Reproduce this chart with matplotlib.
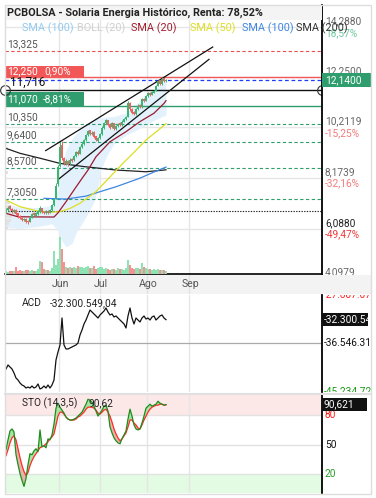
import matplotlib
matplotlib.use("Agg")
import matplotlib.pyplot as plt
from matplotlib.patches import Rectangle
from matplotlib.lines import Line2D
from matplotlib.transforms import blended_transform_factory as blend

plt.rcParams['font.family'] = ['Roboto', 'DejaVu Sans']

# ==========================================================
#  Datos (sesiones diarias, indice 0..80)
# ==========================================================
title = "PCBOLSA - Solaria Energia Histórico, Renta: 78,52%"

opens = [6.80, 6.85, 7.00, 6.90, 6.78, 6.85, 6.72, 6.60, 6.55, 6.45,
         6.50, 6.42, 6.38, 6.55, 6.72, 6.63, 6.70, 6.78, 6.92, 6.78,
         6.72, 6.82, 6.75, 6.85, 7.05, 7.35, 7.90, 8.65, 9.50, 8.95,
         8.72, 8.85, 8.72, 8.92, 8.88, 9.05, 9.22, 9.15, 9.40, 9.55,
         9.72, 9.90, 10.10, 9.95, 10.02, 9.85, 9.68, 9.78, 9.95, 10.20,
         10.38, 10.50, 10.35, 10.22, 10.38, 10.15, 10.25, 10.38, 10.30, 10.45,
         10.55, 10.65, 11.20, 10.98, 10.85, 10.75, 10.95, 11.12, 11.05, 11.38,
         11.30, 11.48, 11.62, 11.55, 11.62, 11.70, 11.90, 12.12, 11.98, 12.22,
         12.08]
closes = [6.85, 6.95, 6.90, 6.80, 6.85, 6.70, 6.60, 6.55, 6.45, 6.50,
          6.38, 6.35, 6.55, 6.70, 6.65, 6.72, 6.80, 6.95, 6.78, 6.72,
          6.80, 6.75, 6.85, 7.05, 7.30, 7.85, 8.60, 9.40, 8.95, 8.75,
          8.85, 8.70, 8.90, 8.85, 9.05, 9.20, 9.15, 9.40, 9.55, 9.70,
          9.90, 10.05, 9.95, 10.00, 9.82, 9.70, 9.78, 9.95, 10.20, 10.40,
          10.50, 10.32, 10.20, 10.38, 10.15, 10.25, 10.35, 10.30, 10.45, 10.55,
          10.62, 11.20, 10.95, 10.80, 10.75, 10.95, 11.10, 11.05, 11.35, 11.30,
          11.50, 11.60, 11.55, 11.65, 11.70, 11.90, 12.10, 11.98, 12.20, 12.10,
          12.14]
highs = [6.92, 7.00, 7.05, 6.95, 6.90, 6.88, 6.75, 6.65, 6.58, 6.55,
         6.55, 6.45, 6.60, 6.75, 6.78, 6.78, 6.85, 7.02, 6.95, 6.82,
         6.85, 6.85, 6.90, 7.10, 7.35, 7.95, 8.70, 9.60, 9.66, 9.00,
         8.92, 8.90, 8.95, 8.98, 9.10, 9.25, 9.28, 9.45, 9.60, 9.75,
         9.95, 10.10, 10.12, 10.05, 10.05, 9.88, 9.82, 10.00, 10.25, 10.45,
         10.55, 10.52, 10.38, 10.42, 10.40, 10.30, 10.40, 10.42, 10.50, 10.60,
         10.68, 11.30, 11.25, 11.00, 10.88, 11.00, 11.15, 11.15, 11.40, 11.42,
         11.55, 11.65, 11.66, 11.70, 11.75, 11.95, 12.15, 12.15, 12.25, 12.24,
         12.20]
lows = [6.75, 6.82, 6.85, 6.75, 6.74, 6.65, 6.55, 6.50, 6.40, 6.40,
        6.33, 6.28, 6.35, 6.52, 6.60, 6.60, 6.66, 6.75, 6.74, 6.68,
        6.68, 6.70, 6.72, 6.82, 7.02, 7.30, 7.85, 8.60, 8.90, 8.68,
        8.68, 8.65, 8.68, 8.80, 8.85, 9.00, 9.10, 9.12, 9.36, 9.50,
        9.68, 9.86, 9.90, 9.90, 9.78, 9.65, 9.64, 9.75, 9.92, 10.15,
        10.35, 10.28, 10.15, 10.18, 10.10, 10.12, 10.22, 10.26, 10.28, 10.42,
        10.50, 10.62, 10.90, 10.75, 10.70, 10.72, 10.92, 11.00, 11.02, 11.25,
        11.28, 11.45, 11.50, 11.52, 11.60, 11.68, 11.88, 11.95, 11.95, 12.05,
        12.05]
volumes = [300, 200, 300, 250, 300, 700, 300, 400, 250, 300,
           400, 350, 250, 400, 300, 250, 500, 1250, 1200, 500,
           350, 400, 300, 600, 2250, 900, 1500, 3700, 2500, 1200,
           700, 600, 650, 550, 700, 600, 800, 700, 650, 550,
           700, 750, 550, 600, 800, 500, 550, 700, 650, 500,
           550, 450, 400, 500, 450, 400, 550, 450, 500, 400,
           550, 1370, 900, 600, 500, 550, 600, 450, 1100, 700,
           550, 500, 450, 400, 450, 400, 450, 400, 350, 400,
           300]

sma20_x = [0, 6, 24, 26, 30, 34, 38, 41, 45, 52, 60, 67, 74, 79, 80]
sma20_y = [6.72, 6.58, 6.57, 6.74, 7.19, 7.67, 8.14, 8.48, 9.02, 9.63, 10.04, 10.45, 10.79, 11.19, 11.30]
sma50_x = [0, 7, 17, 22, 27, 32, 37, 45, 52, 59, 64, 70, 80]
sma50_y = [7.26, 6.99, 6.79, 6.76, 6.79, 6.92, 7.13, 7.60, 8.20, 8.80, 9.20, 9.70, 10.36]
sma100_x = [19, 30, 40, 47, 55, 67, 74, 80]
sma100_y = [7.33, 7.30, 7.42, 7.60, 7.80, 8.15, 8.40, 8.60]
sma200_x = [0, 7, 17, 27, 39, 55, 70, 79, 80]
sma200_y = [9.36, 9.16, 8.96, 8.75, 8.62, 8.48, 8.41, 8.48, 8.49]
boll_x = [0, 7, 17, 23, 26, 28, 30, 33, 35, 40, 44, 46, 47, 50, 54, 60, 67, 74, 80]
boll_up = [7.10, 6.98, 6.95, 7.05, 7.70, 8.70, 9.30, 9.75, 9.95, 10.35, 10.55, 10.60, 10.60, 10.63, 10.66, 10.80, 11.30, 11.70, 12.15]
boll_lo = [6.15, 6.10, 6.20, 6.30, 6.00, 5.60, 5.36, 5.50, 5.92, 6.58, 7.20, 7.80, 8.40, 9.00, 9.55, 9.90, 10.18, 10.50, 10.72]

# perfil de volumen (izquierda)
vp_price = [9.36, 8.38, 7.15, 7.00, 6.86, 6.72, 6.58, 6.44, 6.30, 6.16]
vp_len = [1.5, 1.5, 2.5, 3.0, 4.0, 4.5, 3.5, 3.0, 2.0, 1.5]

# lineas de tendencia (canal)
chan_a_x = [19.85, 103.35]
chan_a_y = [9.27, 13.48]
chan_b_x = [26.15, 101.5]
chan_b_y = [8.10, 12.98]

# niveles
lvl_red_dash = 13.325
lvl_red = 12.25
lvl_last = 12.14
lvl_black = 11.716
lvl_green = 11.07
lvl_green_dash = [10.35, 9.64, 8.57, 7.305]
lvl_green_dash_txt = ["10,350", "9,6400", "8,5700", "7,3050"]
lvl_dotted = 6.815

# eje de precios derecho
r_prices = [14.288, 12.25, 10.2119, 8.1739, 6.088, 4.0979]
r_texts = ["14,2880", "12,2500", "10,2119", "8,1739", "6,0880", "4,0979"]
r_pcts = ["18,57%", "", "-15,25%", "-32,16%", "-49,47%", ""]
r_pct_colors = ["#6cc79d", "#f37b7b", "#f37b7b", "#f37b7b", "#f03a3a", "#f37b7b"]

month_labels = ["Jun", "Jul", "Ago", "Sep"]
month_pos = [26.5, 47, 70.5, 91.5]

legend_texts = ["SMA (100)", "BOLL (20)", "SMA (20)", "SMA (50)", "SMA (100)", "SMA (200)"]
legend_colors = ["#92caf0", "#cfcfcf", "#a01c2c", "#dede22", "#3d86e3", "#333333"]
legend_px = [21.7, 77, 131, 190, 242, 296]

# ACD (millones)
acd_vals = [-41.12, -40.40, -40.76, -41.12, -41.83, -42.73, -43.09, -43.62, -43.98, -44.16,
            -44.52, -44.34, -44.52, -44.16, -44.52, -44.34, -43.80, -44.69, -44.52, -44.16,
            -44.52, -43.98, -44.52, -43.98, -43.09, -39.51, -38.08, -36.83, -32.00, -36.83,
            -37.54, -37.54, -37.36, -37.18, -37.00, -36.83, -36.47, -35.04, -34.15, -33.07,
            -32.36, -31.46, -30.57, -30.93, -31.28, -31.64, -32.00, -31.46, -31.11, -30.75,
            -30.21, -30.93, -31.46, -31.28, -31.82, -31.64, -32.00, -32.36, -32.71, -33.07,
            -33.79, -31.64, -30.21, -32.00, -33.07, -32.00, -32.36, -32.71, -32.00, -31.64,
            -32.18, -32.00, -32.36, -31.82, -31.64, -32.36, -32.00, -31.64, -31.46, -32.00,
            -32.30]
acd_top, acd_mid, acd_bot = -27.887, -36.546, -45.234

# Estocastico
sto_k = [45, 55, 64, 66, 63, 40, 30, 21, 14, 8,
         16, 30, 41, 40, 44, 46, 43, 65, 48, 49,
         47, 56, 55, 60, 71, 87, 92, 88, 85, 82,
         78, 76, 75, 75, 76, 77, 79, 81, 83, 87,
         91, 96, 95, 93, 89, 84, 79, 82, 85, 89,
         90, 84, 68, 62, 57, 54, 52, 51, 56, 60,
         64, 76, 86, 79, 70, 66, 65, 66, 72, 79,
         87, 89, 91, 89, 90, 91, 94, 92, 91, 90,
         90.62]
sto_d = [39, 45, 52, 57, 59, 55, 46, 37, 29, 23,
         19, 22, 29, 34, 38, 41, 44, 47, 48, 49,
         51, 53, 56, 58, 61, 70, 79, 83, 83, 81,
         78, 76, 75, 75, 75, 76, 78, 79, 81, 83,
         86, 88, 88, 88, 87, 85, 82, 81, 83, 85,
         86, 83, 79, 73, 66, 61, 57, 54, 56, 59,
         62, 68, 75, 75, 72, 70, 67, 66, 70, 75,
         79, 83, 86, 88, 89, 90, 90, 91, 91, 90,
         90.3]

# ==========================================================
#  Layout
# ==========================================================
W, H = 376, 498
fig = plt.figure(figsize=(W / 100, H / 100), dpi=100)


def px_rect(x0, y0, x1, y1):
    return [x0 / W, 1 - y1 / H, (x1 - x0) / W, (y1 - y0) / H]


def clean(a):
    a.set_xticks([])
    a.set_yticks([])
    for s in a.spines.values():
        s.set_visible(False)


ax = fig.add_axes(px_rect(5, 5, 322, 274))
rax = fig.add_axes(px_rect(322, 5, 371, 274), sharey=ax)
strip = fig.add_axes(px_rect(5, 275, 371, 294))
acd = fig.add_axes(px_rect(5, 295, 322, 392), sharex=ax)
racd = fig.add_axes(px_rect(322, 295, 371, 392), sharey=acd)
sto = fig.add_axes(px_rect(5, 394, 322, 493), sharex=ax)
rsto = fig.add_axes(px_rect(322, 394, 371, 493), sharey=sto)

for a in [ax, rax, strip, acd, racd, sto, rsto]:
    clean(a)
for a in [rax, racd, rsto]:
    a.set_xlim(0, 1)
    a.spines["left"].set_visible(True)
    a.spines["left"].set_color("black")
    a.spines["left"].set_linewidth(1.3)
ax.spines["bottom"].set_visible(True)
ax.spines["bottom"].set_color("black")
ax.spines["bottom"].set_linewidth(1.2)

ax.set_xlim(-0.5, 158)
ax.set_ylim(4.254, 15.189)
idx = list(range(len(closes)))
GRID = "#e6e6e6"

# ==========================================================
#  Panel principal
# ==========================================================
for m in month_pos:
    for a in [ax, acd, sto]:
        a.axvline(m, color=GRID, lw=1, zorder=0.5)
for p in r_prices:
    ax.axhline(p, color=GRID, lw=1, zorder=0.5)

ax.fill_between(boll_x, boll_lo, boll_up, color="#e3f1fc", lw=0, zorder=1)
ax.barh(vp_price, vp_len, left=-0.5, height=0.12, color="#e2e2e2", zorder=1.2)

bt = blend(ax.transAxes, ax.transData)
dash = (0, (3, 2.2))
ax.axhline(lvl_red_dash, color="#e85050", lw=0.8, ls=dash, zorder=2)
ax.axhline(lvl_red, color="#f05a5a", lw=1.0, zorder=2)
ax.axhline(lvl_last, color="#1a3cff", lw=0.9, ls=dash, zorder=2)
ax.axhline(lvl_black, color="#111111", lw=1.0, zorder=2)
ax.axhline(lvl_green, color="#2e9e6e", lw=1.0, zorder=2)
for p in lvl_green_dash:
    ax.axhline(p, color="#2e9e6e", lw=0.8, ls=dash, zorder=2)
ax.axhline(lvl_dotted, color="#222222", lw=0.8, ls=(0, (1.2, 1.2)), zorder=2)

ax.plot(sma200_x, sma200_y, color="#222222", lw=0.9, zorder=3)
ax.plot(sma100_x, sma100_y, color="#3d86e3", lw=0.9, zorder=3)
ax.plot(sma50_x, sma50_y, color="#dede22", lw=0.9, zorder=3)
ax.plot(sma20_x, sma20_y, color="#9b1b30", lw=0.9, zorder=3)
ax.plot(chan_a_x, chan_a_y, color="#111111", lw=0.9, zorder=3, clip_on=False)
ax.plot(chan_b_x, chan_b_y, color="#111111", lw=0.9, zorder=3, clip_on=False)

UP, DOWN = "#36b872", "#f26060"
for i in idx:
    col = UP if closes[i] >= opens[i] else DOWN
    ax.vlines(i, lows[i], highs[i], color=col, lw=0.7, zorder=4)
    lo = min(opens[i], closes[i])
    hgt = max(abs(closes[i] - opens[i]), 0.03)
    ax.bar(i, hgt, bottom=lo, width=0.75, color=col, lw=0, zorder=4)

vax = ax.twinx()
clean(vax)
vcols = ["#8de3b4" if closes[i] >= opens[i] else "#f69292" for i in idx]
vax.bar(idx, volumes, width=0.8, color=vcols, lw=0)
vax.set_ylim(0, 26900)

# etiquetas de niveles (izquierda)
FS = 7.3
ax.text(0.006, lvl_red_dash + 0.06, "13,325", transform=bt, fontsize=FS, color="#555555", va="bottom", zorder=5)
for p, t in zip(lvl_green_dash, lvl_green_dash_txt):
    ax.text(0.006, p + 0.06, t, transform=bt, fontsize=FS, color="#555555", va="bottom", zorder=5)
ax.add_patch(Rectangle((0, 12.27), 0.249, 0.44, transform=bt, color="#f25757", lw=0, zorder=5))
ax.text(0.006, 12.49, "12,250", transform=bt, fontsize=FS, color="white", va="center", zorder=6)
ax.text(0.123, 12.49, "0,90%", transform=bt, fontsize=FS, color="white", va="center", zorder=6)
ax.add_patch(Rectangle((0, 11.09), 0.249, 0.58, transform=bt, color="#2f9d6d", lw=0, zorder=5))
ax.text(0.006, 11.37, "11,070", transform=bt, fontsize=FS, color="white", va="center", zorder=6)
ax.text(0.12, 11.37, "-8,81%", transform=bt, fontsize=FS, color="white", va="center", zorder=6)
ax.text(0.016, lvl_black + 0.05, "11,716", transform=bt, fontsize=8.4, color="#111111", va="bottom", zorder=6)
ax.plot([0, 1], [lvl_black, lvl_black], transform=bt, ls="none", marker="o", ms=7,
        mfc="none", mec="#333333", mew=0.8, clip_on=False, zorder=6)

# eje derecho
rbt = blend(rax.transAxes, rax.transData)
for p, t, pc, c in zip(r_prices, r_texts, r_pcts, r_pct_colors):
    tc = "#222222" if t == "6,0880" else "#666666"
    rax.text(0.06, p + 0.03, t, transform=rbt, fontsize=FS, color=tc, va="bottom")
    if pc:
        rax.text(0.06, p - 0.03, pc, transform=rbt, fontsize=FS, color=c, va="top")
rax.add_patch(Rectangle((0, lvl_last - 0.29), 1, 0.58, transform=rbt, color="#2f9d6d", lw=0, zorder=5))
rax.text(0.06, lvl_last, "12,1400", transform=rbt, fontsize=FS, color="white", va="center", zorder=6)

# franja de meses
strip.set_facecolor("#f3f3f3")
strip.set_xlim(-0.5, 182.5)
strip.set_ylim(0, 1)
for m, lab in zip(month_pos, month_labels):
    strip.axvline(m, color="#e2e2e2", lw=1)
    strip.text(m + 0.5, 0.55, lab, fontsize=7.6, color="#555555", ha="center", va="center")

# ==========================================================
#  ACD
# ==========================================================
acd.set_ylim(acd_bot, acd_top)
acd.axhline(acd_mid, color="#aaaaaa", lw=0.9, zorder=1)
acd.plot(idx, acd_vals, color="#111111", lw=0.9, zorder=3)
acd.text(0.054, 0.918, "ACD", transform=acd.transAxes, fontsize=FS, color="#222222", va="center")
acd.text(0.142, 0.918, "-32.300.549,04", transform=acd.transAxes, fontsize=FS, color="#222222", va="center")
cbt = blend(racd.transAxes, racd.transData)
racd.text(0.04, acd_top, "-27.887.073", transform=cbt, fontsize=FS, color="#ff2020", va="center", clip_on=True)
racd.text(0.04, acd_mid, "-36.546.311", transform=cbt, fontsize=FS, color="#111111", va="center", clip_on=True)
racd.text(0.04, acd_bot, "-45.234.729", transform=cbt, fontsize=FS, color="#1a9a1a", va="center", clip_on=True)
racd.add_patch(Rectangle((0, acd_vals[-1] - 1.16), 0.94, 2.32, transform=cbt, color="#111111", lw=0, zorder=5))
racd.text(0.04, acd_vals[-1], "-32.300.549", transform=cbt, fontsize=FS, color="white", va="center",
          clip_on=True, zorder=6)

# ==========================================================
#  STO
# ==========================================================
sto.set_ylim(1.3, 101.3)
sto.axhspan(80, 102, color="#fde8e8", lw=0, zorder=0.2)
sto.axhspan(0, 20, color="#e2fbe2", lw=0, zorder=0.2)
for lv in [80, 50, 20]:
    sto.axhline(lv, color="#e2e2e2", lw=1, zorder=0.6)
k_up = [k >= d for k, d in zip(sto_k, sto_d)]
k_dn = [k < d for k, d in zip(sto_k, sto_d)]
sto.fill_between(idx, sto_k, sto_d, where=k_up, interpolate=True, color="#a9e3a2", lw=0, zorder=2)
sto.fill_between(idx, sto_k, sto_d, where=k_dn, interpolate=True, color="#e6b4a8", lw=0, zorder=2)
sto.plot(idx, sto_d, color="#ff2a2a", lw=0.9, zorder=3)
sto.plot(idx, sto_k, color="#1e8c1e", lw=0.9, zorder=3)
sto.text(0.054, 0.909, "STO (14,3,5)", transform=sto.transAxes, fontsize=FS, color="#222222", va="center")
sto.text(0.262, 0.909, "90,62", transform=sto.transAxes, fontsize=FS, color="#222222", va="center")
sbt = blend(rsto.transAxes, rsto.transData)
for lv, c in zip([80, 50, 20], ["#ff1a1a", "#111111", "#2a9d2a"]):
    rsto.text(0.06, lv, str(lv), transform=sbt, fontsize=FS, color=c, va="center")
rsto.add_patch(Rectangle((0, sto_k[-1] - 6.5), 0.92, 13, transform=sbt, color="#111111", lw=0, zorder=5))
rsto.text(0.04, sto_k[-1], "90,621", transform=sbt, fontsize=FS, color="white", va="center", zorder=6)

# ==========================================================
#  Titulo, leyenda y marco
# ==========================================================
fig.patches.append(Rectangle((5 / W, 1 - 20 / H), 317 / W, 15 / H, transform=fig.transFigure,
                             color="#f4f4f4", lw=0, zorder=1))
fig.text(7 / W, 1 - 12.5 / H, title, fontsize=7.8, fontweight="bold", color="#222222", va="center")
for x0, t, c in zip(legend_px, legend_texts, legend_colors):
    fig.text(x0 / W, 1 - 28 / H, t, fontsize=7.8, color=c, va="center")
fig.lines.append(Line2D([5 / W, 371 / W], [1 - 393.5 / H, 1 - 393.5 / H], transform=fig.transFigure,
                        color="#e0e0e0", lw=1.5))
fig.patches.append(Rectangle((5 / W, 1 - 494 / H), 366 / W, 489 / H, transform=fig.transFigure,
                             fill=False, ec="#dddddd", lw=1, zorder=1))

fig.savefig("out.png", dpi=100)
